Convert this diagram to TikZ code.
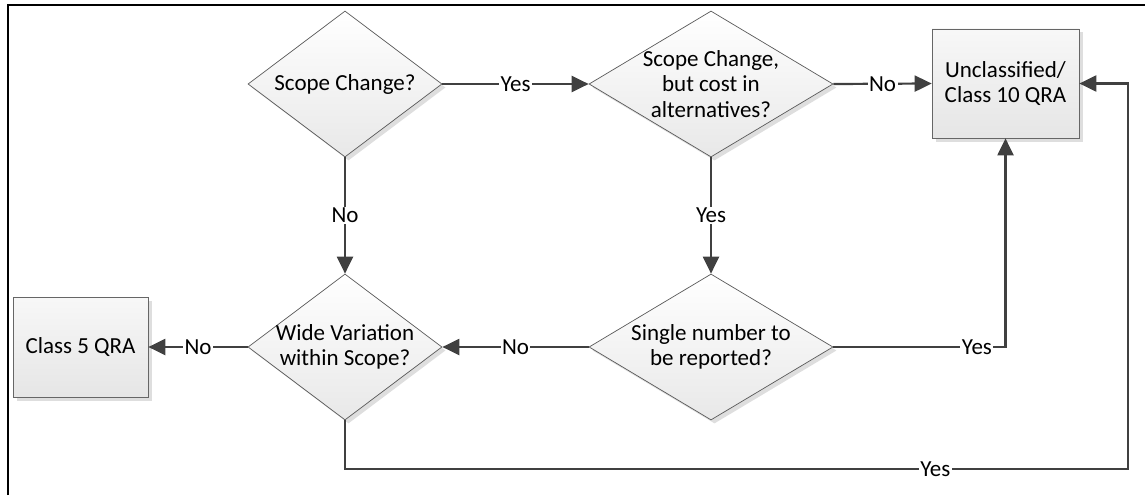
\documentclass[tikz,border=0pt]{standalone}
\usepackage{fontspec}
\setmainfont{Carlito}
\usetikzlibrary{shapes.geometric,arrows.meta,shadows}
\begin{document}
\begin{tikzpicture}[x=1pt,y=-1pt,
  font=\fontsize{23}{25.5}\selectfont,
  shad/.style={drop shadow={shadow xshift=3.5pt,shadow yshift=-3.5pt,fill=black!13,opacity=1}},
  dec/.style={diamond, draw=black!65, line width=0.7pt, top color=white, bottom color=black!9,
    shad, inner sep=0pt},
  dtext/.style={label={[align=center,inner sep=0pt]center:{#1}}},
  proc/.style={rectangle, draw=black!60, line width=0.7pt, top color=black!3, bottom color=black!10,
    shad, align=center, inner sep=0pt},
  arr/.style={draw=black!75, line width=2.2pt, -{Triangle[length=17pt,width=16pt]}},
  lbl/.style={fill=white, inner sep=1.5pt, text=black}]
\useasboundingbox (0,0) rectangle (1145,495);
\draw[line width=2pt] (8,495) -- (8,5) -- (1145,5);

\node[dec, minimum width=194pt, minimum height=146pt, dtext={Scope Change?}] (d1) at (345,84) {};
\node[dec, minimum width=244pt, minimum height=146pt, dtext={Scope Change,\\but cost in\\alternatives?}] (d2) at (711,84) {};
\node[proc, minimum width=147pt, minimum height=109pt] (unc) at (1005.5,83.5) {Unclassified/\\Class 10 QRA};
\node[dec, minimum width=194pt, minimum height=146pt, dtext={Wide Variation\\within Scope?}] (d4) at (345,347) {};
\node[dec, minimum width=244pt, minimum height=146pt, dtext={Single number to\\be reported?}] (d3) at (711,347) {};
\node[proc, minimum width=135pt, minimum height=100pt] (c5) at (80.5,347) {Class 5 QRA};
\coordinate (c1) at (1128,469);

\draw[arr] (d1.east) -- node[lbl]{Yes} (d2.west);
\draw[arr] (d2.east) -- node[lbl]{No} (unc.west);
\draw[arr] (d1.south) -- node[lbl]{No} (d4.north);
\draw[arr] (d2.south) -- node[lbl]{Yes} (d3.north);
\draw[arr] (d3.west) -- node[lbl]{No} (d4.east);
\draw[arr] (d4.west) -- node[lbl]{No} (c5.east);
\draw[arr] (d3.east) -| node[lbl,pos=0.417]{Yes} (unc.south);
\draw[arr] (d4.south) |- node[lbl,pos=0.877]{Yes} (c1) |- (unc.east);
\end{tikzpicture}
\end{document}
